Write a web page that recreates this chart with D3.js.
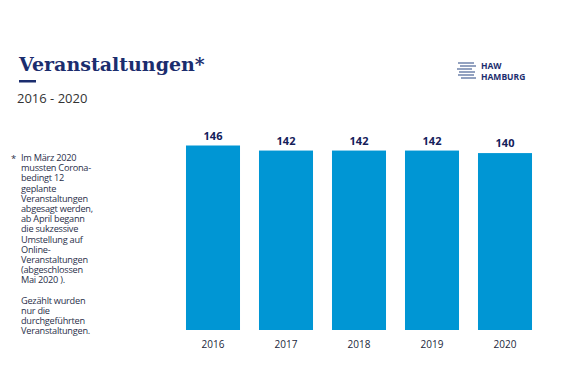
<!DOCTYPE html>
<html><head><meta charset="utf-8">
<script src="https://cdn.jsdelivr.net/npm/d3@7"></script>
<style>
html,body{margin:0;padding:0;background:#fff;}
svg{display:block;}
</style></head>
<body>
<svg id="chart" width="570" height="381"></svg>
<script>
const years = ["2016","2017","2018","2019","2020"];
const events = [146, 142, 142, 142, 140];
const titleText = "Veranstaltungen*";
const subtitleText = "2016 - 2020";
const noteLines = ["Im März 2020","mussten Corona-","bedingt 12","geplante","Veranstaltungen","abgesagt werden,","ab April begann","die sukzessive","Umstellung auf","Online-","Veranstaltungen","(abgeschlossen","Mai 2020 ).","","Gezählt wurden","nur die","durchgeführten","Veranstaltungen."];

const svg = d3.select("#chart");
const navy = "#1b2d6e";
const barColor = "#0096d4";

const x = d3.scaleBand().domain(years).range([176.5, 541.5]).paddingInner(0.26).paddingOuter(0.13);
const y = d3.scaleLinear().domain([0, 146]).range([330, 145.5]);

// title
svg.append("text").attr("x", 19).attr("y", 71)
  .attr("font-family", "DejaVu Serif").attr("font-weight", "bold").attr("font-size", 19)
  .attr("fill", navy).text(titleText);
svg.append("rect").attr("x", 19).attr("y", 80).attr("width", 17).attr("height", 2.5).attr("fill", navy);
svg.append("text").attr("x", 17).attr("y", 103)
  .attr("font-family", "Open Sans").attr("font-size", 13).attr("fill", "#333").text(subtitleText);

// logo
const logo = svg.append("g");
const logoLines = [[458,474,63],[460,476,66],[457,472,69],[459,475,72],[458,474,75],[461,476,78]];
logo.selectAll("line").data(logoLines).join("line")
  .attr("x1", d => d[0]).attr("x2", d => d[1]).attr("y1", d => d[2]).attr("y2", d => d[2])
  .attr("stroke", "#4a6396").attr("stroke-width", 1.2);
logo.append("text").attr("x", 481).attr("y", 69).attr("font-family", "Open Sans").attr("font-weight", "bold")
  .attr("font-size", 8.5).attr("fill", navy).text("HAW");
logo.append("text").attr("x", 481).attr("y", 80).attr("font-family", "Open Sans").attr("font-weight", "bold")
  .attr("font-size", 8.5).attr("fill", navy).text("HAMBURG");

// footnote
svg.append("text").attr("x", 11).attr("y", 162).attr("font-family", "Open Sans").attr("font-size", 9.5)
  .attr("fill", "#2a2f4a").text("*");
svg.append("g").selectAll("text").data(noteLines).join("text")
  .attr("x", 21).attr("y", (d, i) => 161 + i * 10.2)
  .attr("font-family", "Open Sans").attr("font-size", 9.2).attr("letter-spacing", -0.25)
  .attr("fill", "#2a2f4a").text(d => d);

// bars
svg.append("g").selectAll("rect").data(events).join("rect")
  .attr("x", (d, i) => x(years[i])).attr("width", x.bandwidth())
  .attr("y", d => y(d)).attr("height", d => y(0) - y(d)).attr("fill", barColor);

svg.append("g").selectAll("text").data(events).join("text")
  .attr("x", (d, i) => x(years[i]) + x.bandwidth() / 2).attr("y", d => y(d) - 6)
  .attr("text-anchor", "middle").attr("font-family", "Open Sans").attr("font-weight", "bold")
  .attr("font-size", 11).attr("fill", "#14205a").text(d => d);

// x axis
const xAxis = svg.append("g").attr("transform", "translate(0,330)")
  .call(d3.axisBottom(x).tickSize(0).tickPadding(11));
xAxis.select(".domain").remove();
xAxis.selectAll("text").attr("font-family", "Open Sans").attr("font-size", 10).attr("fill", "#1a1f3a");
</script>
</body></html>
